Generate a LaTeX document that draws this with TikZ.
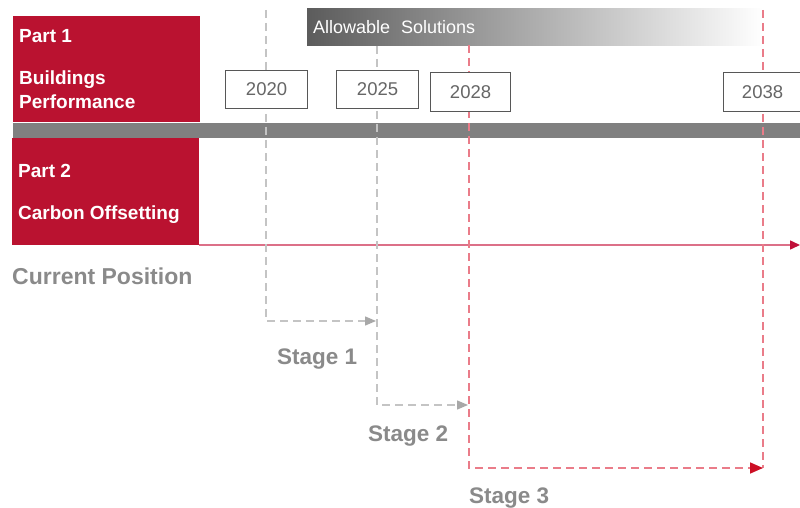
\documentclass[tikz,border=0pt]{standalone}
\usepackage{fontspec}
\setmainfont{Liberation Sans}
\usetikzlibrary{arrows.meta}
\definecolor{brick}{HTML}{BA1230}
\definecolor{bargray}{HTML}{808080}
\definecolor{txtgray}{HTML}{8A8A8A}
\definecolor{yeargray}{HTML}{666666}
\definecolor{dashgray}{HTML}{C4C4C4}
\definecolor{tipgray}{HTML}{A8A8A8}
\definecolor{dashred}{HTML}{EA7C89}
\definecolor{tipred}{HTML}{CC0F25}
\definecolor{linered}{HTML}{DC7088}
\definecolor{cptip}{HTML}{C0103A}
\begin{document}
\begin{tikzpicture}[x=1pt,y=-1pt,
  redbox/.style={fill=brick, draw=none, inner sep=0pt, anchor=north west},
  parttext/.style={text=white, font=\fontsize{19}{22}\selectfont\bfseries, anchor=base west, inner sep=0pt},
  yearbox/.style={draw=yeargray!85!black, line width=1.1pt, fill=white, inner sep=0pt, anchor=north west,
                  text=yeargray, font=\fontsize{18.5}{20}\selectfont},
  stagetext/.style={text=txtgray, font=\fontsize{22.5}{26}\selectfont\bfseries, anchor=base west, inner sep=0pt},
  greydash/.style={draw=dashgray, line width=1.3pt, dash pattern=on 8pt off 5pt},
  reddash/.style={draw=dashred, line width=1.6pt, dash pattern=on 8pt off 5pt},
  greytip/.style={-{Triangle[length=11pt,width=9pt,color=tipgray]}},
  redtip/.style={-{Triangle[length=13pt,width=11pt,color=tipred]}}
]
\useasboundingbox (0,0) rectangle (800,508);

% Allowable solutions gradient bar
\node[inner sep=0pt, anchor=north west, minimum width=456pt, minimum height=37pt,
      left color=black!64, right color=white, draw=none] (allow) at (307,8) {};
\node[text=white, font=\fontsize{18}{20}\selectfont, anchor=base west, inner sep=0pt] (allowtxt) at (313,34) {Allowable\hspace{0.6em}Solutions};

% red part boxes
\node[redbox, minimum width=187pt, minimum height=106pt] (part1) at (13,16) {};
\node[redbox, minimum width=187pt, minimum height=107pt] (part2) at (12,138) {};

% gray divider bar
\node[fill=bargray, inner sep=0pt, anchor=north west, minimum width=787pt, minimum height=15pt] (divider) at (13,123) {};

% current position line
\coordinate (cpstart) at (199,245);
\coordinate (cpend) at (800,245);
\draw[linered, line width=1.5pt, -{Triangle[length=10pt,width=9pt,color=cptip]}] (cpstart) -- (cpend);

% part texts
\node[parttext] (p1a) at (19,43) {Part 1};
\node[parttext] (p1b) at (19,85) {Buildings};
\node[parttext] (p1c) at (19,109) {Performance};
\node[parttext] (p2a) at (18,177) {Part 2};
\node[parttext] (p2b) at (18,219) {Carbon Offsetting};

\node[text=txtgray, font=\fontsize{23}{26}\selectfont\bfseries, anchor=base west, inner sep=0pt] (curpos) at (12,284) {Current Position};

% stage connectors
\coordinate (s1top) at (266,10);
\coordinate (s1corner) at (266,321);
\coordinate (s1end) at (376,321);
\coordinate (s2top) at (377,46);
\coordinate (s2corner) at (377,405);
\coordinate (s2end) at (468,405);
\coordinate (s3top) at (469,45);
\coordinate (s3corner) at (469,468);
\coordinate (s3end) at (763,468);
\coordinate (s4top) at (763,10);

\draw[greydash, greytip] (s1top) -- (s1corner) -- (s1end);
\draw[greydash, greytip] (s2top) -- (s2corner) -- (s2end);
\draw[reddash] (s4top) -- (s3end);
\draw[reddash, redtip] (s3top) -- (s3corner) -- (s3end);

% year boxes
\node[yearbox, minimum width=82pt, minimum height=38pt] (y2020) at (225,70) {2020};
\node[yearbox, minimum width=82pt, minimum height=38pt] (y2025) at (336,70) {2025};
\node[yearbox, minimum width=80pt, minimum height=39pt] (y2028) at (430,72) {2028};
\node[yearbox, minimum width=78pt, minimum height=39pt] (y2038) at (723,72) {2038};

% stage labels
\node[stagetext] (st1) at (277,364) {Stage 1};
\node[stagetext] (st2) at (368,441) {Stage 2};
\node[stagetext] (st3) at (469,503) {Stage 3};
\end{tikzpicture}
\end{document}
